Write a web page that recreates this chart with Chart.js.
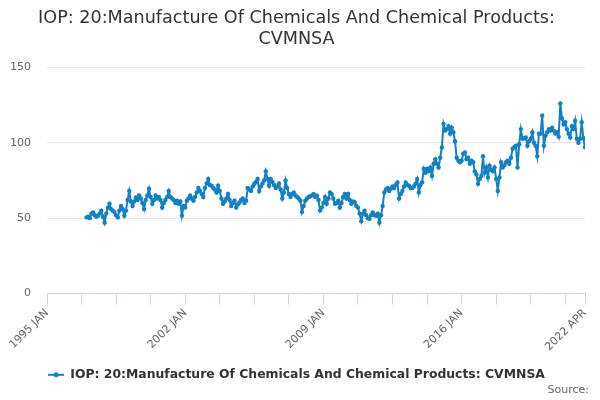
<!DOCTYPE html>
<html><head><meta charset="utf-8">
<script src="https://cdn.jsdelivr.net/npm/chart.js@4.4.0/dist/chart.umd.min.js"></script>
<style>html,body{margin:0;padding:0;background:#fff}#wrap{width:600px;height:400px}</style>
</head><body><div id="wrap"><canvas id="c" width="600" height="400"></canvas></div>
<script>
const titleLines = ['IOP: 20:Manufacture Of Chemicals And Chemical Products:', 'CVMNSA'];
const seriesName = 'IOP: 20:Manufacture Of Chemicals And Chemical Products: CVMNSA';
const sourceText = 'Source:';
const MONTHS = ['JAN','FEB','MAR','APR','MAY','JUN','JUL','AUG','SEP','OCT','NOV','DEC'];
const axisStart = '1995 JAN';
const axisEnd = '2022 APR';
const firstMonth = '1997 JAN';
const tickLabels = ['1995 JAN', '2002 JAN', '2009 JAN', '2016 JAN', '2022 APR'];
const minorTickStepMonths = 21;
const yTicks = [0, 50, 100, 150];
// monthly values, 1997 JAN .. 2022 APR
const values = [
 50.5, 51, 50, 53, 53.8, 52, 51, 51.6, 53, 55, 51, 47,
 53, 57, 59.5, 56, 55, 54, 52, 50.5, 55, 58, 56, 51.6,
 55, 62, 68, 61, 58, 61, 63.7, 62, 65, 63, 60, 56,
 62, 65, 69.5, 64, 59.5, 62, 65, 63, 64, 62, 57, 60,
 62, 64, 68, 64, 63, 62, 60, 61.5, 59.5, 61, 51.6, 58,
 57, 61.5, 63, 65, 63, 61.5, 64, 67, 70, 68, 66, 64,
 70, 73, 76, 72, 71.5, 70, 69, 67, 71.5, 68, 63, 59.5,
 61, 63, 66, 62, 58, 60, 61.5, 57, 59, 60.4, 62, 63,
 60, 61.5, 70, 69, 68, 71, 72.8, 74, 76, 68, 71, 73,
 75, 81, 76, 71.5, 76, 74, 72, 70, 71, 73, 69, 63,
 67, 75, 70, 66, 64, 66, 67, 65, 64, 63, 61.5, 54,
 58, 61.5, 63, 64, 64.5, 65, 66, 64, 65, 62, 55, 57,
 60, 64, 59.5, 63, 67, 66, 63, 59.5, 60, 61.5, 57, 60,
 64, 66, 63, 66, 62, 59.5, 61, 60.5, 58, 57, 53, 48,
 53, 55, 52, 50, 49.6, 52, 53.8, 52, 51.6, 53, 47, 52,
 58, 67, 69, 70, 68, 69.5, 71, 70, 72, 73.7, 63, 66,
 68, 71, 73.7, 72, 71.5, 70, 70, 71, 72.8, 76, 67, 72,
 73.7, 82.7, 80, 82.7, 81, 83.6, 78, 86, 89, 86, 83.6, 90,
 96.8, 112.5, 108, 109, 111, 106, 110, 107, 101, 90, 88, 87,
 88, 92.7, 93.5, 89, 90, 86, 88, 87, 81, 79, 72.8, 76,
 78, 91, 80, 83.6, 77, 84.7, 82, 81, 83.6, 76, 68, 77,
 87, 83.6, 85, 87, 88, 86, 90, 96, 97, 98, 83.6, 99,
 109, 102.6, 103, 103.5, 98, 101, 102.6, 107, 100, 98, 91, 106,
 106, 118, 98, 104.6, 107, 109, 108, 110, 108, 106, 107, 104,
 126, 116, 112, 113.5, 109, 106, 103.5, 111, 109, 114.5, 102.6, 100,
 102.6, 113.5, 103, 97
];

const COLOR = '#1380c4';
const FONT = "'DejaVu Sans', sans-serif";
function monthIndex(s) { const [y, m] = s.split(' '); return (parseInt(y) - 1995) * 12 + MONTHS.indexOf(m); }
function monthLabel(i) { return (1995 + Math.floor(i / 12)) + ' ' + MONTHS[i % 12]; }
const x0 = monthIndex(axisStart), x1 = monthIndex(axisEnd), first = monthIndex(firstMonth);
const categories = values.map((v, i) => monthLabel(first + i));
const points = values.map((v, i) => ({ x: monthIndex(categories[i]), y: v }));
const tickPositions = [];
for (let t = x0; t < x1; t += minorTickStepMonths) tickPositions.push(t);
tickPositions.push(x1);
const labelAt = {};
tickLabels.forEach(l => labelAt[monthIndex(l)] = l);

// legend marker: line with dot
const marker = document.createElement('canvas');
marker.width = 16; marker.height = 10;
(function () {
  const g = marker.getContext('2d');
  g.strokeStyle = COLOR; g.lineWidth = 2;
  g.beginPath(); g.moveTo(0, 5); g.lineTo(16, 5); g.stroke();
  g.fillStyle = COLOR; g.beginPath(); g.arc(8, 5, 2.5, 0, Math.PI * 2); g.fill();
})();

const sourcePlugin = {
  id: 'sourceText',
  afterDraw(chart) {
    const ctx = chart.ctx;
    ctx.save();
    ctx.font = "11px " + FONT;
    ctx.fillStyle = '#666';
    ctx.textAlign = 'right';
    ctx.textBaseline = 'middle';
    ctx.fillText(sourceText, 589, 390);
    ctx.restore();
  }
};

new Chart(document.getElementById('c'), {
  type: 'line',
  data: { datasets: [{
    label: seriesName,
    data: points,
    borderColor: COLOR,
    backgroundColor: COLOR,
    pointBackgroundColor: COLOR,
    pointBorderColor: COLOR,
    pointRadius: 2.2,
    pointBorderWidth: 0,
    borderWidth: 2,
    tension: 0,
    fill: false
  }]},
  options: {
    responsive: false,
    animation: false,
    devicePixelRatio: 1,
    layout: { padding: { left: 8, right: 15, top: 0, bottom: 9 } },
    plugins: {
      title: {
        display: true, text: titleLines, color: '#333',
        font: { family: FONT, size: 17.6, weight: 'normal', lineHeight: 1.2 },
        padding: { top: 8, bottom: 17 }
      },
      legend: {
        position: 'bottom',
        labels: {
          color: '#333',
          font: { family: FONT, size: 12.4, weight: 'bold' },
          usePointStyle: true,
          pointStyleWidth: 16,
          padding: 10,
          generateLabels(chart) {
            return [{ text: seriesName, pointStyle: marker, fillStyle: COLOR, strokeStyle: COLOR, lineWidth: 0, datasetIndex: 0, fontColor: '#333' }];
          }
        }
      },
      tooltip: { enabled: false }
    },
    scales: {
      x: {
        type: 'linear', min: x0, max: x1,
        afterBuildTicks(axis) { axis.ticks = tickPositions.map(v => ({ value: v })); },
        afterFit(axis) { axis.height = 65; axis.paddingLeft = 0; axis.paddingRight = 0; },
        ticks: {
          autoSkip: false, minRotation: 45, maxRotation: 45, padding: 2,
          color: '#666', font: { family: FONT, size: 11 },
          callback(v) { return labelAt[v] || ''; }
        },
        grid: { drawOnChartArea: false, color: '#ccd6eb', tickLength: 11 },
        border: { color: '#ccd6eb', width: 1 }
      },
      y: {
        min: 0, max: 150,
        afterBuildTicks(axis) { axis.ticks = yTicks.map(v => ({ value: v })); },
        afterFit(axis) { axis.width = 39; },
        ticks: { color: '#666', font: { family: FONT, size: 11 }, padding: 16 },
        grid: { color: '#e6e6e6', drawTicks: false },
        border: { display: false }
      }
    }
  },
  plugins: [sourcePlugin]
});
</script></body></html>
